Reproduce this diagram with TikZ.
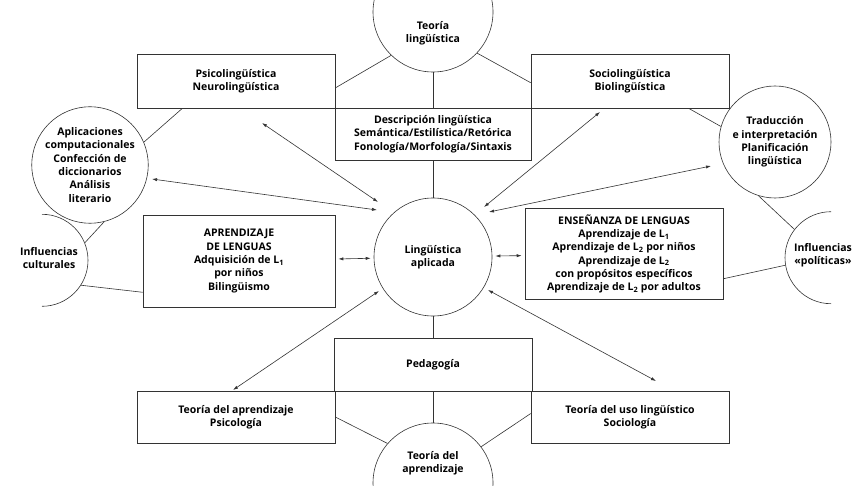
\documentclass[tikz,border=0pt]{standalone}
\usepackage{fontspec}
\setmainfont{Open Sans}
\usetikzlibrary{arrows.meta,positioning}

\begin{document}
\begin{tikzpicture}[
  x=1pt, y=-1pt,
  font=\fontsize{10.5}{13.3}\selectfont\bfseries,
  line width=0.6pt, draw=black!80,
  txt/.style={align=center, inner sep=0pt},
  box/.style={draw, txt, minimum width=198pt, minimum height=54pt},
  circ/.style={circle, draw, txt, minimum size=#1},
  rim/.style={circle, txt, minimum size=92pt},
  arr/.style={{Latex[length=5pt,width=3.2pt]}-{Latex[length=5pt,width=3.2pt]}}
]
\useasboundingbox (0,0) rectangle (866,486);
\clip (0,0) rectangle (866,486);

% upper row
\node[circ=120pt] (teol) at (433,12) {};
\node[txt] (teoltx) at (433,33) {Teoría\\lingüística};
\node[box] (psi) at (236,81) {Psicolingüística\\Neurolingüística};
\node[box, minimum width=196pt, minimum height=52pt] (desc) at (433,134)
  {Descripción lingüística\\Semántica/Estilística/Retórica\\Fonología/Morfología/Sintaxis};
\node[box] (soc) at (630,81) {Sociolingüística\\Biolingüística};
\node[circ=106pt] (apl) at (90,165)
  {Aplicaciones\\computacionales\\Confección de\\diccionarios\\Análisis\\literario};
\node[circ=112pt] (trad) at (775,142)
  {Traducción\\e interpretación\\Planificación\\lingüística};

% middle row
\node[circ=118pt] (la) at (433,257) {Lingüística\\aplicada};
\node[box, minimum width=192pt, minimum height=92pt] (apr) at (239,261)
  {APRENDIZAJE\\DE LENGUAS\\Adquisición de L\textsubscript{1}\\por niños\\Bilingüismo};
\node[box, minimum height=91pt] (ens) at (624,254)
  {ENSEÑANZA DE LENGUAS\\Aprendizaje de L\textsubscript{1}\\Aprendizaje de L\textsubscript{2} por niños\\
   Aprendizaje de L\textsubscript{2}\\con propósitos específicos\\Aprendizaje de L\textsubscript{2} por adultos};
\node[rim] (infc) at (42,260) {};
\node[txt] (infctx) at (49,258) {Influencias\\culturales};
\node[rim] (infp) at (831,258) {};
\node[txt] (infptx) at (823,255) {Influencias\\«políticas»};
\draw (infc.south) arc[start angle=-90, end angle=90, radius=46pt];
\draw (infp.north) arc[start angle=90, end angle=270, radius=46pt];

% lower row
\node[box, minimum height=53pt] (ped) at (433,364.5) {Pedagogía};
\node[box, minimum height=52pt] (tap) at (236,417) {Teoría del aprendizaje\\Psicología};
\node[box, minimum height=52pt] (tus) at (630,417) {Teoría del uso lingüístico\\Sociología};
\node[circ=120pt] (teoa) at (433,483) {};
\node[txt] (teoatx) at (433,463) {Teoría del\\aprendizaje};

% plain links
\draw (teol.-134) -- (psi.-4);
\draw (teol.-43) -- (soc.181);
\draw (teol.south) -- (desc.north);
\draw (desc.south) -- (la.north);
\draw (la.south) -- (ped.north);
\draw (ped.south) -- (teoa.north);
\draw (psi.-153) -- (apl.23);
\draw (apl.-76) -- (infc.22);
\draw (apr.-162) -- (infc.-33);
\draw (soc.-25) -- (trad.164);
\draw (trad.-107) -- (infp.142);
\draw (ens.-14) -- (infp.-171);
\draw (tap.east) -- (teoa.139);
\draw (tus.178) -- (teoa.37);

% two-way arrows
\coordinate (p1) at (262,123);  \coordinate (q1) at (378,202);
\coordinate (p2) at (152,179);  \coordinate (q2) at (377,210);
\coordinate (p3) at (600,112);  \coordinate (q3) at (484,207);
\coordinate (p4) at (711,166);  \coordinate (q4) at (489,212);
\coordinate (p5) at (233,390);  \coordinate (q5) at (379,291);
\coordinate (p6) at (656,381);  \coordinate (q6) at (488,290);
\draw[arr] (p1) -- (q1);
\draw[arr] (p2) -- (q2);
\draw[arr] (p3) -- (q3);
\draw[arr] (p4) -- (q4);
\draw[arr] (p5) -- (q5);
\draw[arr] (p6) -- (q6);
\draw[arr, shorten <=3pt, shorten >=3pt] (apr) -- (la);
\draw[arr, shorten <=3pt, shorten >=3pt] (la) -- (ens);
\end{tikzpicture}
\end{document}
